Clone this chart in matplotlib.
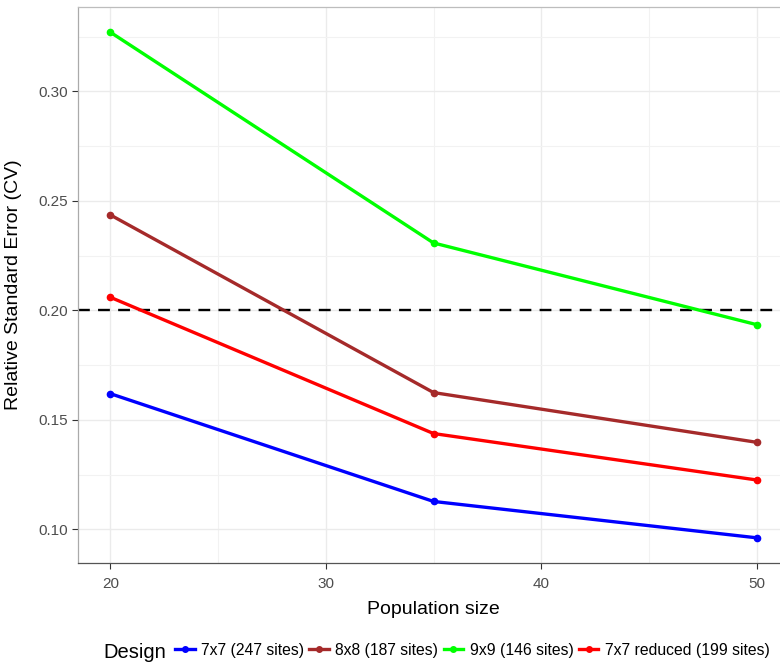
import matplotlib
matplotlib.use("Agg")
import matplotlib.pyplot as plt
from matplotlib.lines import Line2D
from matplotlib.ticker import MultipleLocator

plt.rcParams['font.family'] = ['Liberation Sans', 'DejaVu Sans']

population = [20, 35, 50]
designs = ["7x7 (247 sites)", "8x8 (187 sites)", "9x9 (146 sites)", "7x7 reduced (199 sites)"]
cv_7x7 = [0.1620, 0.1128, 0.0962]
cv_8x8 = [0.2436, 0.1625, 0.1398]
cv_9x9 = [0.3270, 0.2308, 0.1935]
cv_7x7r = [0.2060, 0.1438, 0.1226]
colors = ["#0000FF", "#A52A2A", "#00FF00", "#FF0000"]
threshold = 0.20
x_ticks = [20, 30, 40, 50]
y_ticks = [0.10, 0.15, 0.20, 0.25, 0.30]

W, H = 780, 662
fig = plt.figure(figsize=(W / 100, H / 100), dpi=100)
left, right, top, bottom = 78, 789, 7, 563
ax = fig.add_axes([left / W, 1 - bottom / H, (right - left) / W, (bottom - top) / H])

series = [cv_7x7, cv_8x8, cv_9x9, cv_7x7r]
for vals, col, lab in zip(series, colors, designs):
    ax.plot(population, vals, color=col, lw=2.4, marker='o', ms=4.5, label=lab,
            solid_capstyle='butt', zorder=3)

ax.axhline(threshold, color='black', lw=1.7, ls=(0, (5, 3.5)), zorder=2)

ax.set_xlim(18.5, 51.5)
ax.set_ylim(0.0847, 0.3385)
ax.set_xticks(x_ticks)
ax.set_yticks(y_ticks)
ax.set_yticklabels([f"{v:.2f}" for v in y_ticks])
ax.xaxis.set_minor_locator(MultipleLocator(5))
ax.yaxis.set_minor_locator(MultipleLocator(0.025))
ax.grid(which='major', color='#ebebeb', lw=1.0, zorder=0)
ax.grid(which='minor', color='#f2f2f2', lw=0.8, zorder=0)
ax.set_axisbelow(True)
ax.tick_params(which='minor', length=0)
ax.tick_params(axis='y', which='major', length=4, width=0.8, color='#333333',
               labelsize=11, labelcolor='#4d4d4d', pad=3)
ax.tick_params(axis='x', which='major', length=4, width=0.8, color='#333333',
               labelsize=11, labelcolor='#4d4d4d', pad=6)

ax.spines['top'].set_color('#bdbdbd')
ax.spines['left'].set_color('#aaaaaa')
ax.spines['bottom'].set_color('#555555')
ax.spines['right'].set_visible(False)
for s in ax.spines.values():
    s.set_linewidth(0.9)

ax.set_xlabel("Population size", fontsize=14, labelpad=7)
ax.set_ylabel("Relative Standard Error (CV)", fontsize=14, labelpad=12)

handles = [Line2D([0], [0], color=c, lw=2.4, marker='o', ms=4) for c in colors]
fig.text(103 / W, 1 - 652 / H, "Design", fontsize=14.5, ha='left', va='center')
leg = fig.legend(handles, designs, loc='center left', bbox_to_anchor=(175 / W, 1 - 650 / H),
                 ncol=4, frameon=False, fontsize=11.3, handlelength=1.25,
                 handletextpad=0.4, columnspacing=0.35, borderpad=0, borderaxespad=0)

fig.savefig("out.png", dpi=100)
